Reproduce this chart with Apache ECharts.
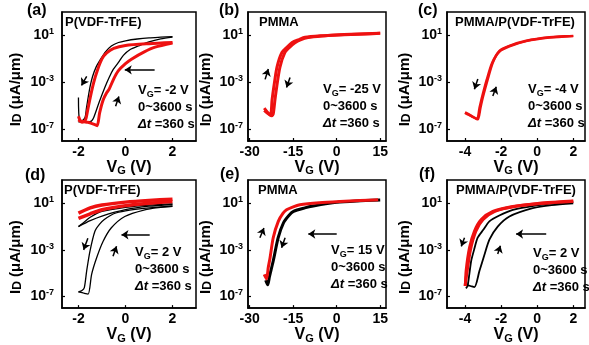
<!DOCTYPE html>
<html>
<head>
<meta charset="utf-8">
<script src="https://cdn.jsdelivr.net/npm/echarts@6/dist/echarts.min.js"></script>
<style>
html,body{margin:0;padding:0;background:#fff}
#chart{width:589px;height:345px}
</style>
</head>
<body>
<div id="chart"></div>
<script>
var F = '"Liberation Sans", Arial, sans-serif';
var RED = '#ee1111';

// tick labels
var xTicksA = [-2, 0, 2];
var xTicksB = [-30, -15, 0, 15];
var xTicksC = [-4, -2, 0, 2];
var yTicks = [1e-7, 1e-3, 10];

// (a) P(VDF-TrFE), VG = -2 V   [VG (V), ID (uA/um)]
var aBlackUp = [[-2,5e-5],[-1.95,5e-7],[-1.7,4e-7],[-1.45,5e-7],[-1.35,1e-6],[-1.12,2e-5],[-0.87,4e-4],[-0.7,2.5e-3],[-0.52,0.0126],[-0.3,0.05],[-0.09,0.2],[0.2,0.63],[0.55,1.26],[1.0,2.8],[1.5,5.0],[2.0,7.1]];
var aBlackDown = [[2,7.9],[1.5,7.1],[1,6.3],[0.5,5.0],[0,3.5],[-0.3,2.5],[-0.6,1.26],[-0.85,0.4],[-1.05,0.1],[-1.25,0.02],[-1.4,3.2e-3],[-1.5,5e-4],[-1.58,6.3e-5],[-1.66,6.3e-6],[-1.72,1e-6],[-1.85,5e-7],[-2,4e-7]];
var aRedUp = [[-2,1.3e-6],[-1.9,5e-7],[-1.6,4e-7],[-1.3,2.5e-7],[-1.2,2e-7],[-1.1,2.5e-6],[-0.95,3.2e-5],[-0.8,1.3e-4],[-0.7,2.5e-4],[-0.5,2e-3],[-0.3,0.01],[0,0.04],[0.27,0.1],[0.8,0.4],[1.26,1.0],[2,2.24]];
var aRedDown = [[2,2.5],[1,2.0],[0,1.41],[-0.5,0.8],[-0.8,0.32],[-1.0,0.1],[-1.2,0.01],[-1.35,1e-3],[-1.5,5e-5],[-1.62,3.2e-6],[-1.7,6.3e-7],[-1.85,4e-7],[-2,6.3e-7]];

// (b) PMMA, VG = -25 V
var bRedUp = [[-25,6.3e-6],[-22.9,1.6e-6],[-22.3,3.2e-5],[-21.7,4e-4],[-20.6,0.02],[-18.9,0.35],[-17,1.1],[-15.4,2.5],[-13,4.5],[-10.9,6.9],[-5,9.5],[0,11.2],[5,12.6],[10,14.1],[15,15.8]];
var bRedDown = [[15,15.1],[10,13.5],[5,12],[0,10.7],[-5,9],[-9.9,6.6],[-12.5,4.2],[-14.4,2.4],[-16.2,1.0],[-17.9,0.34],[-19.6,0.019],[-20.7,4e-4],[-21.3,3.2e-5],[-21.9,2e-6],[-22.4,1.4e-6],[-25,4e-6]];

// (c) PMMA/P(VDF-TrFE), VG = -4 V
var cRedUp = [[-4,2.8e-6],[-3.65,1.4e-6],[-3.3,7e-7],[-3.15,6.3e-6],[-3.02,5e-5],[-2.74,1.9e-3],[-2.46,0.05],[-2.09,0.49],[-1.54,1.3],[-0.61,3.5],[0.68,6.9],[2,9.5]];
var cRedDown = [[2,9.1],[0.68,6.6],[-0.61,3.3],[-1.54,1.2],[-2.09,0.43],[-2.5,0.045],[-2.8,1.6e-3],[-3.07,4.5e-5],[-3.2,6.3e-6],[-3.33,7.9e-7],[-3.65,1.3e-6],[-4,2.5e-6]];

// (d) P(VDF-TrFE), VG = 2 V
var dBlackUp = [[-2,2.5e-7],[-1.8,2e-7],[-1.59,1.6e-7],[-1.44,7.9e-6],[-1.23,2e-4],[-0.95,5.5e-3],[-0.6,0.079],[-0.03,0.74],[0.82,2.75],[1.4,4.2],[2,5.4]];
var dBlackDown = [[2,6.0],[1,4.0],[0,2.24],[-0.5,1.26],[-0.9,0.4],[-1.1,0.16],[-1.3,0.04],[-1.51,7.9e-4],[-1.65,1.6e-5],[-1.75,5.8e-7],[-1.85,3.2e-7],[-2,2.5e-7]];
var dBlack2Up = [[-2,0.1],[-1.8,0.2],[-1.5,0.63],[-1,2.0],[0,4.5],[1,7.1],[2,8.9]];
var dBlack2Down = [[2,7.9],[1,5.6],[0,2.8],[-1,0.8],[-1.5,0.32],[-2,0.1]];
var dRedUp = [[-2,1.41],[-1.5,4.0],[-1,7.1],[0,12.6],[1,17.8],[2,22.4]];
var dRedDown = [[2,14.1],[1,10],[0,6.3],[-1,2.8],[-1.5,1.26],[-2,0.5]];

// (e) PMMA, VG = 15 V
var eBlack = [[-24.5,2.5e-6],[-23.8,1e-6],[-23.2,5e-6],[-21.9,1.1e-4],[-20.2,0.011],[-18.4,0.2],[-16.5,0.89],[-14.9,2.0],[-11,4.0],[-8.1,5.8],[0,12],[7,15.8],[15,19]];
var eRed = [[-25,7.9e-6],[-24.2,3.2e-6],[-23.6,3.2e-5],[-23,2e-4],[-21.9,0.011],[-20.15,0.28],[-18.5,1.4],[-17.3,2.75],[-15,5],[-12.7,7.4],[-6,11],[1.1,14.1],[8,17],[14.3,20]];

// (f) PMMA/P(VDF-TrFE), VG = 2 V
var fBlackUp = [[-3.95,1e-6],[-3.7,7.9e-7],[-3.48,6.3e-7],[-3.2,1.6e-5],[-2.92,4e-4],[-2.65,7.6e-3],[-2.19,0.1],[-1.54,0.74],[-0.25,3.8],[0.8,7.1],[2,10]];
var fBlackDown = [[2,12.6],[0.5,8.5],[-0.5,5.0],[-1.35,2.75],[-2.1,0.9],[-2.65,0.28],[-3.0,0.05],[-3.3,0.011],[-3.5,1e-3],[-3.66,1.1e-4],[-3.8,3e-6],[-3.86,7.9e-7],[-3.95,5e-7]];
var fRedUp = [[-4,7.9e-7],[-3.9,1e-5],[-3.7,1e-3],[-3.4,0.04],[-3.0,0.4],[-2.35,2.0],[-1.25,5.2],[0.2,9.5],[2,15]];
var fRedDown = [[2,15.8],[1,12.6],[0.12,10],[-1.35,5.4],[-2.46,2.0],[-3.1,0.4],[-3.48,0.04],[-3.75,1.6e-3],[-3.94,1.6e-5],[-3.98,7.9e-7]];

// arrow annotations [from, to]
var aArrows = [[[1.24,0.0117],[-0.03,0.0117]], [[-1.65,3.2e-3],[-1.87,5.5e-4]], [[-0.42,9e-6],[-0.28,6.3e-5]]];
var bArrows = [[[-24.7,1.8e-3],[-23.6,0.014]], [[-16.1,2.6e-3],[-17.3,3.6e-4]]];
var cArrows = [[[-3.29,1.9e-3],[-3.48,2.6e-4]], [[-2.46,7e-5],[-2.27,4.2e-4]]];
var dArrows = [[[1.03,0.02],[-0.17,0.02]], [[-1.6,0.01],[-1.78,1e-3]], [[-0.53,2.9e-4],[-0.38,2e-3]]];
var eArrows = [[[0,0.023],[-9.8,0.023]], [[-26.5,0.011],[-25.1,0.076]], [[-17.8,0.011],[-19.0,1.5e-3]]];
var fArrows = [[[0.5,0.023],[-1.17,0.023]], [[-4.03,0.011],[-4.21,2e-3]], [[-2.19,4.5e-4],[-2.04,2.3e-3]]];

var panels = [
  {tag:'(a)', name:'P(VDF-TrFE)', vg:'-2', left:62, top:12, width:134, xMin:-2.7, xMax:3, ticks:xTicksA,
   curves:[[aBlackUp,'#000',1.3],[aBlackDown,'#000',1.3],[aRedUp,RED,3],[aRedDown,RED,3]], arrows:aArrows,
   tagPos:[27,3], namePos:[65,16], notePos:[138,82], yGap:38, yMargin:8},
  {tag:'(b)', name:'PMMA', vg:'-25', left:248, top:12, width:138, xMin:-30.6, xMax:17, ticks:xTicksB,
   curves:[[bRedUp,RED,3],[bRedDown,RED,3]], arrows:bArrows,
   tagPos:[219,3], namePos:[259,16], notePos:[323,81], yGap:34, yMargin:5},
  {tag:'(c)', name:'PMMA/P(VDF-TrFE)', vg:'-4', left:447, top:12, width:138, xMin:-5, xMax:2.65, ticks:xTicksC,
   curves:[[cRedUp,RED,2.5],[cRedDown,RED,2.5]], arrows:cArrows,
   tagPos:[418,3], namePos:[455,16], notePos:[528,81], yGap:34, yMargin:5},
  {tag:'(d)', name:'P(VDF-TrFE)', vg:'2', left:62, top:180, width:134, xMin:-2.7, xMax:3, ticks:xTicksA,
   curves:[[dBlackUp,'#000',1.3],[dBlackDown,'#000',1.3],[dBlack2Up,'#000',1.3],[dBlack2Down,'#000',1.3],[dRedUp,RED,3.5],[dRedDown,RED,3.5]], arrows:dArrows,
   tagPos:[25,168], namePos:[64,184], notePos:[135,244], yGap:38, yMargin:8},
  {tag:'(e)', name:'PMMA', vg:'15', left:248, top:180, width:138, xMin:-30.6, xMax:17, ticks:xTicksB,
   curves:[[eBlack,'#000',3],[eRed,RED,3]], arrows:eArrows,
   tagPos:[220,167], namePos:[258,184], notePos:[331,242], yGap:34, yMargin:5},
  {tag:'(f)', name:'PMMA/P(VDF-TrFE)', vg:'2', left:447, top:180, width:138, xMin:-5, xMax:2.65, ticks:xTicksC,
   curves:[[fBlackUp,'#000',1.8],[fBlackDown,'#000',1.8],[fRedUp,RED,3],[fRedDown,RED,3]], arrows:fArrows,
   tagPos:[419,167], namePos:[456,184], notePos:[533,245], yGap:34, yMargin:5}
];

var bold = {fontFamily:F, fontWeight:'bold', color:'#000'};
function st(o){ return Object.assign({}, bold, o); }

var grids = [], xAxes = [], yAxes = [], series = [], titles = [];

panels.forEach(function (p, i) {
  grids.push({left:p.left, top:p.top, width:p.width, height:129, show:true, borderColor:'#000', borderWidth:1.5});
  xAxes.push({
    gridIndex:i, type:'value', min:p.xMin, max:p.xMax,
    axisLine:{show:true, onZero:false, lineStyle:{color:'#000', width:1.5}},
    axisTick:{show:true, inside:true, length:3, customValues:p.ticks, lineStyle:{color:'#000', width:1.2}},
    axisLabel:{customValues:p.ticks, margin:4, fontSize:14, fontWeight:'bold', fontFamily:F, color:'#000'},
    splitLine:{show:false},
    name:'{n|V}{g|G}{n| (V)}', nameLocation:'middle', nameGap:17,
    nameTextStyle:{rich:{n:st({fontSize:16, lineHeight:18}), g:st({fontSize:11, lineHeight:12, verticalAlign:'bottom'})}}
  });
  yAxes.push({
    gridIndex:i, type:'log', logBase:10, min:1e-8, max:1e3,
    axisLine:{show:true, onZero:false, lineStyle:{color:'#000', width:1.5}},
    axisTick:{show:true, inside:true, length:3, customValues:yTicks, lineStyle:{color:'#000', width:1.2}},
    axisLabel:{
      customValues:yTicks, margin:p.yMargin,
      formatter:function (v) { return '{b|10}{s|' + Math.round(Math.log(v) / Math.LN10) + '}'; },
      rich:{b:st({fontSize:14, lineHeight:16}), s:st({fontSize:9, lineHeight:10, verticalAlign:'top'})}
    },
    splitLine:{show:false}, minorTick:{show:false},
    name:'{n|I}{d|D}{n| (\u03bcA/\u03bcm)}', nameLocation:'middle', nameGap:p.yGap, nameRotate:90,
    nameTextStyle:{padding:[0,26,0,0], rich:{n:st({fontSize:15, lineHeight:17}), d:st({fontSize:12, lineHeight:14, verticalAlign:'bottom'})}}
  });
  p.curves.forEach(function (c, k) {
    var s = {
      type:'line', xAxisIndex:i, yAxisIndex:i, data:c[0], showSymbol:false, smooth:0.25,
      lineStyle:{color:c[1], width:c[2]}, itemStyle:{color:c[1]}, silent:true
    };
    if (k === 0) {
      s.markLine = {
        silent:true, symbol:['none','arrow'], symbolSize:7, label:{show:false},
        lineStyle:{color:'#000', width:1.5, type:'solid'},
        data:p.arrows.map(function (a) { return [{coord:a[0]}, {coord:a[1]}]; })
      };
    }
    series.push(s);
  });
  titles.push({text:p.tag, left:p.tagPos[0], top:p.tagPos[1], padding:0, textStyle:st({fontSize:16})});
  titles.push({text:p.name, left:p.namePos[0], top:p.namePos[1], padding:0, textStyle:st({fontSize:13})});
  titles.push({
    text:'{n|V}{g|G}{n|= ' + p.vg + ' V}\n{n|0~3600 s}\n{i|\u0394t}{n| =360 s}',
    left:p.notePos[0], top:p.notePos[1], padding:0,
    textStyle:{rich:{
      n:st({fontSize:13, lineHeight:17}),
      g:st({fontSize:9, lineHeight:11, verticalAlign:'bottom'}),
      i:st({fontSize:13, lineHeight:17, fontStyle:'italic'})
    }}
  });
});

var chart = echarts.init(document.getElementById('chart'));
chart.setOption({
  animation:false,
  backgroundColor:'#fff',
  title:titles,
  grid:grids,
  xAxis:xAxes,
  yAxis:yAxes,
  series:series
});
</script>
</body>
</html>
